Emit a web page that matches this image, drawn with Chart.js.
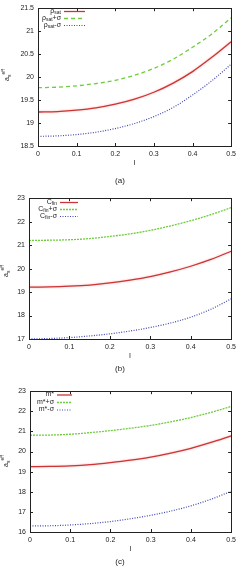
<!DOCTYPE html>
<html>
<head>
<meta charset="utf-8">
<script src="https://cdn.jsdelivr.net/npm/chart.js@4.4.1/dist/chart.umd.min.js"></script>
<style>
body { margin: 0; background: #fff; width: 240px; height: 567px; position: relative; overflow: hidden; font-family: "Liberation Sans", Arial, sans-serif; color: #222; }
canvas { position: absolute; left: 0; }
.ylab { position: absolute; font-size: 7px; white-space: nowrap; transform: translate(-50%, -50%) rotate(-90deg); }
.ylab sub, .ylab sup { font-size: 5px; line-height: 0; }
.cap { position: absolute; left: 0; width: 240px; text-align: center; font-size: 8px; line-height: 10px; }
</style>
</head>
<body>
<canvas id="chartA" width="240" height="172" style="top:0px"></canvas>
<canvas id="chartB" width="240" height="175" style="top:190px"></canvas>
<canvas id="chartC" width="240" height="175" style="top:383px"></canvas>

<div class="ylab" style="left:6px;top:75px">a<sub>s</sub><sup>eff</sup></div>
<div class="ylab" style="left:5px;top:271px">a<sub>s</sub><sup>eff</sup></div>
<div class="ylab" style="left:5px;top:461px">a<sub>s</sub><sup>eff</sup></div>

<div class="cap" style="top:176px">(a)</div>
<div class="cap" style="top:364px">(b)</div>
<div class="cap" style="top:557px">(c)</div>

<script>
// =============================
// DATA
// =============================
const xValues = [0, 0.05, 0.1, 0.15, 0.2, 0.25, 0.3, 0.35, 0.4, 0.45, 0.5];

// panel (a)
const labelsA = ["ρ_{sat}", "ρ_{sat}+σ", "ρ_{sat}-σ"];
const rhoSat = [19.24, 19.25, 19.28, 19.33, 19.41, 19.52, 19.67, 19.87, 20.12, 20.43, 20.77];
const rhoSatPlus = [19.77, 19.78, 19.81, 19.86, 19.93, 20.04, 20.19, 20.39, 20.65, 20.94, 21.29];
const rhoSatMinus = [18.71, 18.72, 18.75, 18.80, 18.88, 18.99, 19.14, 19.34, 19.61, 19.92, 20.28];

// panel (b)
const labelsB = ["C_{fin}", "C_{fin}+σ", "C_{fin}-σ"];
const cFin = [19.21, 19.22, 19.25, 19.30, 19.39, 19.51, 19.66, 19.86, 20.10, 20.39, 20.74];
const cFinPlus = [21.20, 21.21, 21.23, 21.28, 21.37, 21.48, 21.63, 21.82, 22.04, 22.30, 22.60];
const cFinMinus = [17.00, 17.02, 17.06, 17.13, 17.22, 17.34, 17.49, 17.68, 17.93, 18.27, 18.71];

// panel (c)
const labelsC = ["m*", "m*+σ", "m*-σ"];
const mStar = [19.25, 19.26, 19.29, 19.35, 19.45, 19.57, 19.72, 19.92, 20.16, 20.45, 20.78];
const mStarPlus = [20.81, 20.82, 20.86, 20.94, 21.04, 21.16, 21.30, 21.48, 21.69, 21.95, 22.24];
const mStarMinus = [16.30, 16.31, 16.35, 16.42, 16.52, 16.66, 16.83, 17.04, 17.30, 17.63, 18.02];

// =============================
// HELPERS
// =============================
const FONT = "'Liberation Sans', Arial, sans-serif";

function toPoints(ys) {
    return ys.map((y, i) => ({ x: xValues[i], y }));
}

function parseLabel(str) {
    // "ρ_{sat}+σ" -> [{t:"ρ"},{t:"sat",sub:true},{t:"+σ"}]
    const parts = [];
    const re = /_\{([^}]*)\}/g;
    let last = 0, m;
    while ((m = re.exec(str))) {
        if (m.index > last) parts.push({ t: str.slice(last, m.index) });
        parts.push({ t: m[1], sub: true });
        last = re.lastIndex;
    }
    if (last < str.length) parts.push({ t: str.slice(last) });
    return parts;
}

// red line has a soft halo in the reference
const glowPlugin = {
    id: "glow",
    beforeDatasetDraw(chart, args) {
        if (args.index !== 0) return;
        chart.ctx.save();
        chart.ctx.shadowColor = "rgba(235,100,100,0.55)";
        chart.ctx.shadowBlur = 2;
    },
    afterDatasetDraw(chart, args) {
        if (args.index !== 0) return;
        chart.ctx.restore();
    }
};

// gnuplot style frame with inward ticks on all four sides
const framePlugin = {
    id: "frame",
    afterDatasetsDraw(chart) {
        const { ctx, chartArea: a, scales } = chart;
        ctx.save();
        ctx.strokeStyle = "#222";
        ctx.lineWidth = 1;
        ctx.strokeRect(Math.round(a.left) + 0.5, Math.round(a.top) + 0.5,
            Math.round(a.right - a.left), Math.round(a.bottom - a.top));
        const len = 3;
        ctx.beginPath();
        scales.y.ticks.forEach(t => {
            const py = Math.round(scales.y.getPixelForValue(t.value)) + 0.5;
            ctx.moveTo(a.left, py); ctx.lineTo(a.left + len, py);
            ctx.moveTo(a.right, py); ctx.lineTo(a.right - len, py);
        });
        scales.x.ticks.forEach(t => {
            const px = Math.round(scales.x.getPixelForValue(t.value)) + 0.5;
            ctx.moveTo(px, a.bottom); ctx.lineTo(px, a.bottom - len);
            ctx.moveTo(px, a.top); ctx.lineTo(px, a.top + len);
        });
        ctx.stroke();
        ctx.restore();
    }
};

// key in the top-left corner: text right aligned, sample after it
const keyPlugin = {
    id: "gpKey",
    afterDraw(chart, args, opts) {
        const ctx = chart.ctx;
        ctx.save();
        chart.data.datasets.forEach((ds, i) => {
            const y = opts.y + i * opts.dy;
            const parts = parseLabel(ds.label);
            const widths = parts.map(p => {
                ctx.font = (p.sub ? "5px " : "7px ") + FONT;
                return ctx.measureText(p.t).width;
            });
            let x = opts.x - widths.reduce((s, w) => s + w, 0);
            ctx.fillStyle = "#222";
            ctx.textBaseline = "middle";
            parts.forEach((p, k) => {
                ctx.font = (p.sub ? "5px " : "7px ") + FONT;
                ctx.fillText(p.t, x, p.sub ? y + 2 : y);
                x += widths[k];
            });
            ctx.strokeStyle = ds.borderColor;
            ctx.lineWidth = ds.borderWidth;
            ctx.setLineDash(ds.borderDash || []);
            ctx.beginPath();
            ctx.moveTo(opts.x + 3, y + 0.5);
            ctx.lineTo(opts.x + 3 + opts.len, y + 0.5);
            ctx.stroke();
        });
        ctx.restore();
    }
};

function makeChart(id, labels, series, yMin, yMax, step, area, key, dashGreen) {
    const canvas = document.getElementById(id);
    const styles = [
        { color: "#cc3535", width: 1.3, dash: [] },
        { color: "#6fcc3c", width: 1.3, dash: dashGreen },
        { color: "#4048b0", width: 1.2, dash: [1, 1.5] }
    ];
    return new Chart(canvas, {
        type: "line",
        data: {
            datasets: series.map((ys, i) => ({
                label: labels[i],
                data: toPoints(ys),
                borderColor: styles[i].color,
                borderWidth: styles[i].width,
                borderDash: styles[i].dash,
                pointRadius: 0,
                fill: false,
                cubicInterpolationMode: "monotone"
            }))
        },
        options: {
            responsive: false,
            animation: false,
            layout: { padding: { left: 0, right: 6, top: area.top, bottom: 0 } },
            plugins: {
                legend: { display: false },
                tooltip: { enabled: false },
                gpKey: key
            },
            scales: {
                x: {
                    type: "linear",
                    min: 0,
                    max: 0.5,
                    grid: { display: false, drawTicks: false },
                    border: { display: false },
                    ticks: { stepSize: 0.1, padding: 4, color: "#222", font: { size: 7, family: FONT } },
                    title: { display: true, text: "I", color: "#222", padding: { top: 0, bottom: 5 }, font: { size: 7, family: FONT } },
                    afterFit: s => { s.height = canvas.height - area.bottom; }
                },
                y: {
                    min: yMin,
                    max: yMax,
                    grid: { display: false, drawTicks: false },
                    border: { display: false },
                    ticks: {
                        stepSize: step, padding: 4, color: "#222", font: { size: 7, family: FONT },
                        callback: v => String(+v.toFixed(1))
                    },
                    afterFit: s => { s.width = area.left; }
                }
            }
        },
        plugins: [glowPlugin, framePlugin, keyPlugin]
    });
}

// =============================
// DRAW
// =============================
makeChart("chartA", labelsA, [rhoSat, rhoSatPlus, rhoSatMinus], 18.5, 21.5, 0.5,
    { left: 38, top: 5, bottom: 146 }, { x: 61, y: 11, dy: 7, len: 21 }, [4, 3]);

makeChart("chartB", labelsB, [cFin, cFinPlus, cFinMinus], 17, 23, 1,
    { left: 29, top: 7, bottom: 149 }, { x: 57, y: 12, dy: 7, len: 18 }, [2, 1]);

makeChart("chartC", labelsC, [mStar, mStarPlus, mStarMinus], 16, 23, 1,
    { left: 30, top: 8, bottom: 149 }, { x: 54, y: 11.5, dy: 7.5, len: 15 }, [2, 1]);
</script>
</body>
</html>
